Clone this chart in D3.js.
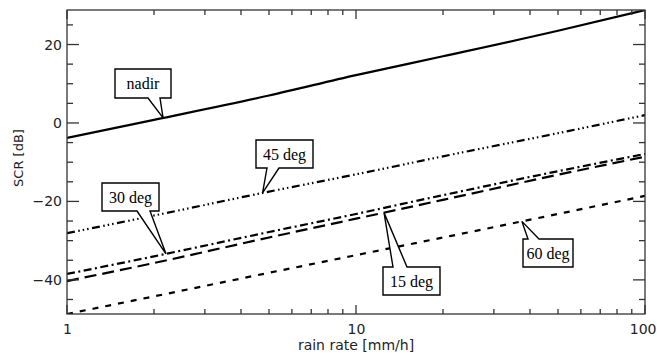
<!DOCTYPE html>
<html><head><meta charset="utf-8">
<script src="https://cdn.jsdelivr.net/npm/d3@7"></script>
<style>
body{margin:0;background:#fff;}
svg{display:block;}
</style></head>
<body>
<svg id="c" width="657" height="356"></svg>
<script>
const rainRate = [1, 2, 5, 10, 20, 50, 100];
const nadir  = [-3.8, 0.8, 7.0, 12.2, 17.0, 23.5, 28.8];
const deg45  = [-28.1, -23.6, -17.5, -13.1, -8.5, -2.6, 2.0];
const deg30  = [-38.5, -34.0, -27.8, -23.2, -18.4, -12.3, -7.9];
const deg15  = [-40.3, -35.7, -29.2, -24.4, -19.6, -13.2, -8.6];
const deg60  = [-48.7, -44.2, -38.2, -33.7, -29.2, -23.2, -18.6];
const xTickLabels = ["1", "10", "100"];
const yTickLabels = ["-40", "-20", "0", "20"];
const seriesNames = ["nadir", "45 deg", "30 deg", "15 deg", "60 deg"];

const L = 67, R = 645, T = 10, B = 314;
const svg = d3.select("#c");
const x = d3.scaleLog().domain([1, 100]).range([L, R]);
const y = d3.scaleLinear().domain([-48.7, 28.8]).range([B, T]);
const axisColor = "#333";
const sans = "DejaVu Sans, sans-serif";

svg.append("clipPath").attr("id", "clip").append("rect")
  .attr("x", L).attr("y", T).attr("width", R - L).attr("height", B - T);

const series = [
  {name: seriesNames[0], v: nadir, dash: null},
  {name: seriesNames[1], v: deg45, dash: "8,3.5,1.5,3,1.5,3,1.5,3.5"},
  {name: seriesNames[2], v: deg30, dash: "8,3.5,2,3.5"},
  {name: seriesNames[3], v: deg15, dash: "12,6"},
  {name: seriesNames[4], v: deg60, dash: "6,7"}
];
const line = d3.line().x((d, i) => x(rainRate[i])).y(d => y(d)).curve(d3.curveMonotoneX);
const g = svg.append("g").attr("clip-path", "url(#clip)");
series.forEach(s => {
  g.append("path").datum(s.v).attr("d", line)
    .attr("fill", "none").attr("stroke", "#000").attr("stroke-width", 2.2)
    .attr("stroke-dasharray", s.dash);
});

const minorX = [];
[1, 10].forEach(d => { for (let k = 2; k <= 9; k++) minorX.push(d * k); });
const majorX = [1, 10, 100];
const minorY = d3.range(-45, 29, 5);
const majorY = [-40, -20, 0, 20];

const ax = svg.append("g").attr("stroke", axisColor).attr("stroke-width", 1.3);
ax.append("rect").attr("x", L).attr("y", T).attr("width", R - L).attr("height", B - T).attr("fill", "none");

const bottomAxis = d3.axisBottom(x).tickValues(majorX).tickFormat((d, i) => xTickLabels[i]).tickSize(0).tickPadding(10);
const bx = svg.append("g").attr("transform", `translate(0,${B})`).call(bottomAxis);
bx.select(".domain").remove();
bx.selectAll("text").attr("font-family", sans).attr("font-size", 14).attr("fill", "#222");
bx.selectAll("text").filter(d => d === 100).attr("text-anchor", "end").attr("x", 11);

const leftAxis = d3.axisLeft(y).tickValues(majorY).tickFormat((d, i) => yTickLabels[i].replace("-", "\u2212")).tickSize(0).tickPadding(5);
const ly = svg.append("g").attr("transform", `translate(${L},0)`).call(leftAxis);
ly.select(".domain").remove();
ly.selectAll("text").attr("font-family", sans).attr("font-size", 14).attr("fill", "#222");

function tickX(vals, len) {
  vals.forEach(v => {
    ax.append("line").attr("x1", x(v)).attr("x2", x(v)).attr("y1", B).attr("y2", B - len);
    ax.append("line").attr("x1", x(v)).attr("x2", x(v)).attr("y1", T).attr("y2", T + len);
  });
}
function tickY(vals, len) {
  vals.forEach(v => {
    ax.append("line").attr("y1", y(v)).attr("y2", y(v)).attr("x1", L).attr("x2", L + len);
    ax.append("line").attr("y1", y(v)).attr("y2", y(v)).attr("x1", R).attr("x2", R - len);
  });
}
tickX(minorX, 5);
tickX(majorX, 9);
tickY(minorY.filter(v => !majorY.includes(v)), 6);
tickY(majorY, 12);

svg.append("text").attr("x", (L + R) / 2).attr("y", 350).attr("text-anchor", "middle")
  .attr("font-family", sans).attr("font-size", 14).attr("fill", "#222")
  .text("rain rate [mm/h]");
svg.append("text").attr("transform", `translate(23,158) rotate(-90)`).attr("text-anchor", "middle")
  .attr("font-family", sans).attr("font-size", 13).attr("fill", "#222")
  .text("SCR [dB]");

function valueAt(arr, rr) {
  const lx = Math.log10(rr);
  for (let i = 0; i < rainRate.length - 1; i++) {
    const a = Math.log10(rainRate[i]), b = Math.log10(rainRate[i + 1]);
    if (lx >= a && lx <= b) return arr[i] + (arr[i + 1] - arr[i]) * (lx - a) / (b - a);
  }
  return arr[arr.length - 1];
}
const callouts = [
  {s: 0, rr: 2.15, box: [115, 69, 56, 29], base: [148, 160], side: "bottom"},
  {s: 1, rr: 4.75, box: [256, 140, 57, 28], base: [267, 279], side: "bottom"},
  {s: 2, rr: 2.2, box: [102, 183, 57, 28], base: [137, 150], side: "bottom"},
  {s: 3, rr: 12.5, box: [383, 267, 57, 28], base: [393, 407], side: "top"},
  {s: 4, rr: 37.5, box: [523, 239, 50, 28], base: [528, 539], side: "top"}
];
const cg = svg.append("g");
callouts.forEach(c => {
  const [bx0, by0, bw, bh] = c.box;
  const px = x(c.rr), py = y(valueAt(series[c.s].v, c.rr));
  let pts;
  if (c.side === "bottom") {
    const yb = by0 + bh;
    pts = [[bx0, by0], [bx0 + bw, by0], [bx0 + bw, yb], [c.base[1], yb], [px, py], [c.base[0], yb], [bx0, yb]];
  } else {
    pts = [[bx0, by0], [c.base[0], by0], [px, py], [c.base[1], by0], [bx0 + bw, by0], [bx0 + bw, by0 + bh], [bx0, by0 + bh]];
  }
  cg.append("path").attr("d", "M" + pts.map(p => p.join(",")).join("L") + "Z")
    .attr("fill", "#fff").attr("stroke", "#000").attr("stroke-width", 1.4);
  cg.append("text").attr("x", bx0 + bw / 2).attr("y", by0 + bh / 2 + 5.5).attr("text-anchor", "middle")
    .attr("font-family", "Liberation Serif, Times New Roman, serif").attr("font-size", 16).attr("fill", "#000")
    .text(series[c.s].name);
});
</script>
</body></html>
